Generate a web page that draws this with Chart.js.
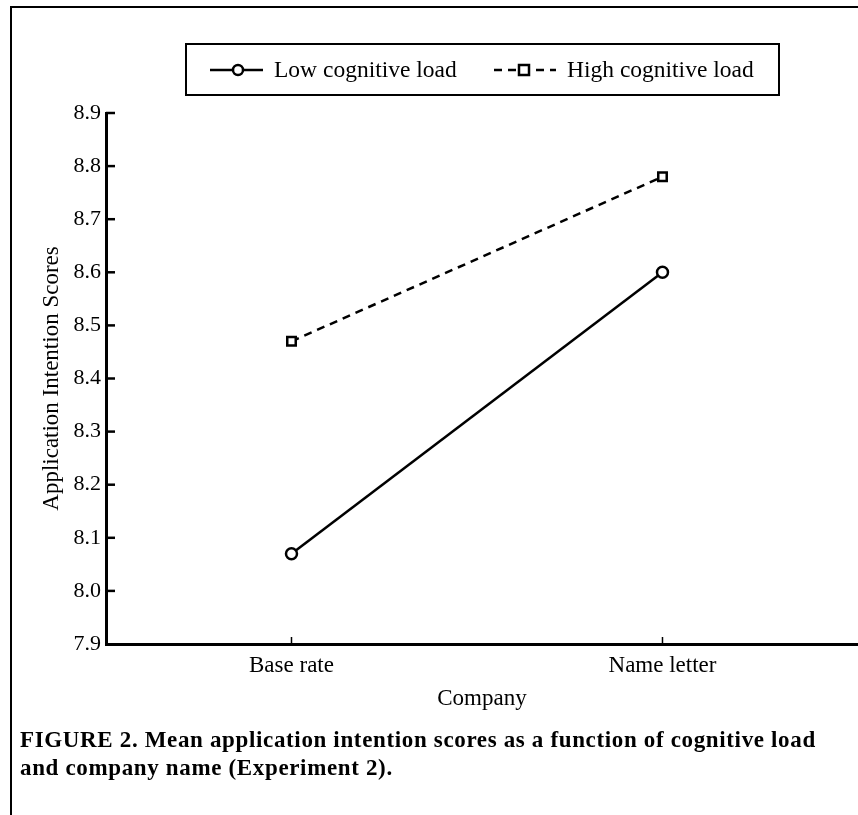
<!DOCTYPE html>
<html>
<head>
<meta charset="utf-8">
<script src="https://cdn.jsdelivr.net/npm/chart.js@4.4.1/dist/chart.umd.min.js"></script>
<style>
  body { margin: 0; background: #fff; }
  #wrap { position: relative; width: 858px; height: 815px; overflow: hidden; }
  #frame { position: absolute; left: 10px; top: 6px; width: 900px; height: 900px;
           border-left: 2px solid #000; border-top: 2px solid #000; }
  #chart { position: absolute; left: 0; top: 0; }
  #caption { position: absolute; left: 20px; top: 726px; width: 838px; white-space: nowrap;
             font: bold 23px "Liberation Serif", "Times New Roman", serif; letter-spacing: 0.65px;
             line-height: 28px; color: #000; }
</style>
</head>
<body>
<div id="wrap">
  <div id="frame"></div>
  <canvas id="chart" width="858" height="815"></canvas>
  <div id="caption">FIGURE 2. Mean application intention scores as a function of cognitive load<br>and company name (Experiment 2).</div>
</div>
<script>
let companies = ['Base rate', 'Name letter'];
let lowLoad = [8.07, 8.60];
let highLoad = [8.47, 8.78];
let yTicks = [7.9, 8.0, 8.1, 8.2, 8.3, 8.4, 8.5, 8.6, 8.7, 8.8, 8.9];

const serif = '"Liberation Serif", "Times New Roman", serif';

// inward tick marks + boxed legend, drawn on top of the chart
const extras = {
    id: 'extras',
    afterDraw(chart) {
        const ctx = chart.ctx;
        const xs = chart.scales.x;
        const ys = chart.scales.y;
        const area = chart.chartArea;
        ctx.save();
        ctx.strokeStyle = '#000';
        ctx.lineWidth = 2.5;
        ys.ticks.forEach(t => {
            const y = ys.getPixelForValue(t.value);
            if (Math.abs(t.value - 7.9) < 1e-6) return;
            ctx.beginPath();
            ctx.moveTo(area.left, y);
            ctx.lineTo(area.left + 9, y);
            ctx.stroke();
        });
        ctx.lineWidth = 1.5;
        xs.ticks.forEach(t => {
            const x = xs.getPixelForValue(t.value);
            ctx.beginPath();
            ctx.moveTo(x, area.bottom);
            ctx.lineTo(x, area.bottom - 7);
            ctx.stroke();
        });

        // legend
        ctx.lineWidth = 2;
        ctx.strokeRect(186, 44, 593, 51);
        const items = [
            {x0: 210, x1: 263, mx: 238, text: 274},
            {x0: 494, x1: 556, mx: 524, text: 567}
        ];
        ctx.font = '23.5px ' + serif;
        ctx.textBaseline = 'middle';
        ctx.fillStyle = '#000';
        chart.data.datasets.forEach((ds, i) => {
            const it = items[i];
            const y = 70;
            ctx.save();
            ctx.lineWidth = 2.5;
            ctx.setLineDash(ds.borderDash || []);
            ctx.beginPath();
            ctx.moveTo(it.x0, y);
            ctx.lineTo(it.x1, y);
            ctx.stroke();
            ctx.setLineDash([]);
            ctx.fillStyle = '#fff';
            ctx.lineWidth = 2.5;
            if (ds.pointStyle === 'rect') {
                ctx.fillRect(it.mx - 5, y - 5, 10, 10);
                ctx.strokeRect(it.mx - 5, y - 5, 10, 10);
            } else {
                ctx.beginPath();
                ctx.arc(it.mx, y, 5, 0, Math.PI * 2);
                ctx.fill();
                ctx.stroke();
            }
            ctx.restore();
            ctx.fillText(ds.label, it.text, y + 1);
        });
        ctx.restore();
    }
};

new Chart(document.getElementById('chart'), {
    type: 'line',
    data: {
        datasets: [{
            label: 'Low cognitive load',
            data: lowLoad.map((v, i) => ({x: i, y: v})),
            borderColor: '#000',
            borderWidth: 2.5,
            pointStyle: 'circle',
            pointRadius: 5.5,
            pointBorderWidth: 2.5,
            pointBackgroundColor: '#fff',
            pointBorderColor: '#000'
        }, {
            label: 'High cognitive load',
            data: highLoad.map((v, i) => ({x: i, y: v})),
            borderColor: '#000',
            borderWidth: 2.5,
            borderDash: [8, 6],
            pointStyle: 'rect',
            pointRadius: 6,
            pointBorderWidth: 2.5,
            pointBackgroundColor: '#fff',
            pointBorderColor: '#000'
        }]
    },
    options: {
        responsive: false,
        animation: false,
        layout: { autoPadding: false, padding: { left: 0, right: 0, top: 113, bottom: 0 } },
        plugins: { legend: { display: false }, tooltip: { enabled: false } },
        scales: {
            x: {
                type: 'linear',
                min: -0.5,
                max: 1.527,
                afterBuildTicks: scale => { scale.ticks = companies.map((c, i) => ({value: i})); },
                afterFit: scale => { scale.height = 171; },
                grid: { display: false, drawTicks: false },
                border: { color: '#000', width: 3 },
                ticks: {
                    padding: 8,
                    color: '#000',
                    font: { family: serif, size: 23 },
                    callback: v => companies[v]
                },
                title: {
                    display: true,
                    text: 'Company',
                    color: '#000',
                    font: { family: serif, size: 23 },
                    padding: { top: 0, bottom: 102 }
                }
            },
            y: {
                min: 7.9,
                max: 8.9,
                afterBuildTicks: scale => { scale.ticks = yTicks.map(v => ({value: v})); },
                afterFit: scale => { scale.width = 106; },
                grid: { display: false, drawTicks: false },
                border: { color: '#000', width: 3 },
                ticks: {
                    padding: 5,
                    color: '#000',
                    font: { family: serif, size: 22 },
                    callback: v => v.toFixed(1)
                },
                title: {
                    display: true,
                    text: 'Application Intention Scores',
                    color: '#000',
                    font: { family: serif, size: 23 },
                    padding: { top: 38, bottom: 0 }
                }
            }
        }
    },
    plugins: [extras]
});
</script>
</body>
</html>
